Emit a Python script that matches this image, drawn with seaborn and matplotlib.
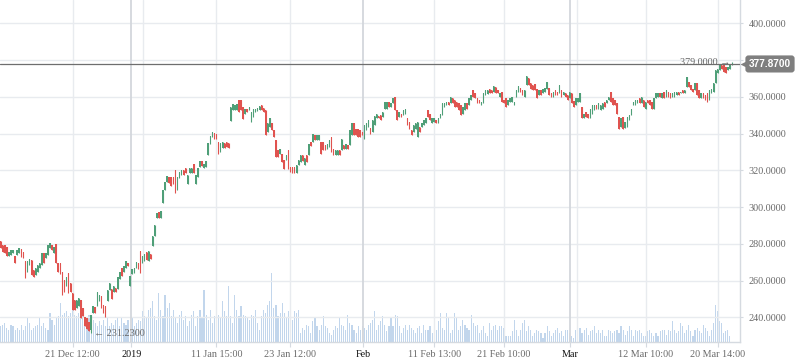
import numpy as np
import pandas as pd
import seaborn as sns
import matplotlib
matplotlib.use("Agg")
import matplotlib.pyplot as plt
from matplotlib.transforms import blended_transform_factory

# ---------------- data ----------------
opens = [
    281.3, 279.5, 279.5, 278.5, 273.1, 274.0, 274.9, 273.5, 274.0, 275.0,
    277.0, 275.8, 270.4, 264.9, 268.6, 271.0, 265.8, 263.1, 264.9, 266.8,
    268.6, 274.9, 272.2, 274.0, 277.6, 279.5, 274.9, 280.0, 269.8, 269.5,
    264.4, 260.4, 256.8, 264.0, 258.6, 253.1, 249.5, 244.8, 245.9, 249.5,
    245.0, 240.4, 239.5, 237.7, 233.2, 242.3, 245.5, 245.9, 248.6, 251.7,
    246.8, 246.2, 248.6, 255.0, 255.3, 254.0, 256.2, 255.3, 260.8, 266.8,
    264.9, 266.8, 269.8,
    257.1, 263.4, 264.0, 267.0, 269.7, 276.0, 269.7, 270.6, 275.5, 270.6,
    274.2, 278.7, 284.1, 294.1, 297.1, 294.1, 302.2, 309.4, 313.9, 316.2,
    316.2, 316.2, 320.2, 309.4, 315.7, 317.5, 320.2, 321.0, 312.6, 318.4,
    318.7, 323.4, 312.6, 316.2, 322.0, 325.2, 321.0, 322.0, 328.3, 334.2,
    338.2, 340.4, 339.6, 335.5, 330.1, 331.9, 335.0, 335.5, 335.0, 346.8,
    352.6, 352.6, 352.6, 358.4, 358.4, 354.4, 350.8, 353.5, 352.6,
    346.4, 349.1, 351.5, 352.2, 352.7, 355.5, 354.0, 352.7, 340.9, 343.6,
    345.8, 341.8, 336.4, 330.9, 329.1, 329.1, 325.5, 325.5, 330.9, 321.8,
    321.8, 321.8, 318.7, 322.7, 324.5, 328.5, 322.7, 328.5, 328.2, 335.5,
    335.5, 339.1, 336.4, 336.4, 335.5, 335.5, 333.6, 331.8, 332.7, 338.2,
    331.8, 328.2, 328.2, 330.9, 330.9, 334.0, 331.8, 334.0, 333.6, 339.1,
    345.5, 342.7, 342.7, 341.8, 340.9, 336.9, 341.8, 343.6, 343.1, 340.9,
    344.5, 348.2, 349.6,
    350.0, 349.1, 353.6, 353.6, 357.3, 354.5, 356.4, 360.0, 352.7, 349.1,
    350.9, 350.0, 350.9, 348.2, 346.4, 341.8, 340.9, 342.7, 338.2, 343.6,
    343.6, 344.5, 345.5, 352.7, 350.9, 345.5, 346.4, 347.3, 345.5, 348.2,
    350.0, 354.5, 355.5, 357.3, 356.4, 359.1, 358.2, 357.3, 356.4, 355.5,
    350.9, 352.7, 356.4, 355.5, 358.2, 363.6, 361.8, 359.1, 358.2, 355.5,
    356.4, 360.9, 361.5, 364.0, 363.6, 362.7, 365.5, 363.6, 360.0, 362.7,
    358.2,
    359.1, 355.5, 357.3, 357.3, 355.5, 360.0, 362.7, 364.9, 363.6, 360.0,
    366.4, 370.0, 367.3, 366.4, 366.7, 364.5, 360.9, 363.6, 361.8, 362.7,
    364.5, 364.9, 361.8, 360.0, 363.6, 362.7, 361.8, 363.6, 360.9, 361.8,
    360.9, 359.1, 361.8, 357.6, 355.5, 357.3, 356.9, 354.5, 348.2, 351.8,
    350.9, 348.2, 350.9, 352.7, 355.8, 353.6, 352.7, 353.6, 356.9, 356.4,
    358.2, 362.7, 359.1, 358.2, 356.4, 349.1, 343.6, 349.1,
    342.8, 343.7, 347.3, 350.0, 355.5, 355.5, 356.4, 359.1, 356.4, 358.2,
    353.6, 358.2, 358.2, 357.3, 353.6, 359.1, 360.0, 361.8, 359.1, 362.7,
    360.0, 362.7, 361.8, 360.0, 360.0, 360.9, 362.7, 361.8, 363.6, 361.8,
    365.4, 368.2, 366.4, 364.5, 363.6, 367.3, 363.6, 359.1, 361.8, 360.9,
    361.8, 358.2, 361.8, 362.7, 367.3, 372.7, 374.5, 377.2, 378.1, 376.3,
    374.5, 375.4, 377.2,
]
closes = [
    277.6, 275.8, 274.9, 273.1, 275.8, 276.7, 276.7, 269.8, 276.7, 277.6,
    273.0, 272.2, 261.3, 270.4, 271.7, 263.0, 262.2, 266.8, 268.6, 269.5,
    274.9, 269.5, 274.9, 279.5, 280.4, 276.7, 278.5, 269.5, 264.9, 263.6,
    252.2, 254.0, 262.2, 253.1, 254.0, 244.1, 244.1, 249.5, 250.4, 239.5,
    240.5, 235.0, 233.5, 232.3, 241.4, 245.9, 242.6, 254.0, 252.2, 245.0,
    242.3, 240.1, 255.0, 258.6, 249.9, 257.1, 253.5, 262.2, 264.4, 262.6,
    268.0, 270.4, 267.7,
    262.5, 266.1, 267.0, 270.0, 266.1, 264.3, 273.3, 274.2, 271.2, 276.0,
    271.5, 284.1, 290.4, 296.8, 294.1, 298.0, 309.4, 313.9, 317.0, 313.0,
    311.2, 312.6, 307.6, 316.2, 319.3, 320.2, 317.5, 318.4, 317.5, 321.0,
    321.1, 318.7, 317.5, 321.0, 325.0, 322.3, 323.4, 325.2, 334.6, 338.6,
    340.9, 337.3, 337.3, 328.8, 334.6, 335.5, 331.9, 332.8, 331.9, 354.4,
    356.2, 355.3, 356.2, 351.7, 352.6, 348.1, 353.5, 351.7, 354.4,
    351.8, 353.6, 353.6, 354.0, 355.0, 352.7, 351.8, 339.1, 345.5, 348.2,
    341.8, 338.2, 327.3, 327.3, 331.8, 324.5, 320.9, 328.2, 320.9, 319.1,
    318.7, 318.7, 322.7, 325.5, 328.2, 324.9, 326.7, 324.5, 334.5, 333.3,
    339.5, 336.4, 339.1, 339.1, 329.1, 330.9, 330.9, 334.5, 336.4, 330.0,
    328.2, 330.9, 330.9, 328.2, 337.3, 331.8, 334.5, 331.8, 341.8, 345.8,
    339.1, 339.1, 338.2, 338.2, 339.1, 344.9, 345.5, 347.3, 340.0, 347.3,
    349.5, 350.4, 348.2,
    347.3, 351.8, 357.3, 357.3, 354.5, 356.7, 359.6, 352.7, 347.3, 351.8,
    349.1, 352.7, 353.1, 344.5, 342.7, 339.1, 344.5, 345.5, 346.4, 340.9,
    345.5, 347.6, 348.2, 349.1, 347.3, 348.2, 348.2, 345.5, 348.2, 350.9,
    356.4, 356.7, 357.3, 355.5, 360.0, 356.4, 354.5, 354.5, 352.7, 350.0,
    354.5, 356.4, 353.6, 359.1, 360.9, 360.0, 359.1, 356.4, 356.4, 357.3,
    361.8, 363.6, 363.6, 361.8, 361.8, 365.8, 361.8, 361.8, 361.8, 357.3,
    356.4,
    354.5, 358.2, 359.1, 360.0, 357.3, 363.6, 366.0, 362.7, 360.9, 363.6,
    371.3, 366.4, 364.5, 363.6, 363.6, 359.1, 363.6, 360.9, 364.2, 364.9,
    368.2, 360.9, 360.0, 362.4, 360.9, 360.9, 366.4, 360.0, 362.7, 360.0,
    358.2, 362.7, 356.4, 354.5, 359.1, 359.1, 361.8, 348.2, 350.9, 349.1,
    348.2, 353.6, 355.5, 355.5, 353.6, 356.4, 355.5, 356.4, 354.5, 358.2,
    360.0, 357.3, 355.5, 355.5, 350.9, 342.7, 348.2, 342.7,
    346.4, 349.1, 350.0, 353.6, 357.3, 358.2, 358.2, 356.4, 360.0, 354.6,
    357.3, 356.4, 355.5, 353.6, 359.1, 361.8, 362.2, 360.0, 361.8, 359.1,
    363.6, 360.0, 359.1, 361.8, 362.7, 362.7, 360.9, 362.7, 361.8, 363.6,
    370.9, 365.4, 363.6, 362.7, 367.3, 360.9, 359.1, 361.8, 359.1, 358.2,
    357.3, 363.6, 364.5, 367.3, 374.5, 375.4, 378.1, 375.4, 373.6, 372.7,
    376.3, 377.2, 377.87,
]
volumes = [
    16, 17, 19, 14, 12, 17, 16, 12, 14, 12, 17, 12, 16, 25, 19, 12, 14, 16, 17,
    25, 16, 19, 14, 12, 29, 22, 17, 24, 26, 39, 27, 29, 31, 26, 29, 32, 27, 26, 29,
    34, 29, 24, 22, 27, 16, 22, 19, 16, 21, 17, 22, 16, 24, 16, 19, 17, 22, 24,
    16, 24, 19, 17, 22, 12, 24, 16, 19, 22, 21, 31, 26, 24, 32, 34, 41, 26, 22, 49,
    32, 26, 47, 34, 39, 26, 32, 24, 19, 27, 31, 22, 26, 16, 21, 27, 31, 16, 26,
    32, 24, 52, 27, 22, 32, 19, 26, 29, 27, 24, 41, 31, 26, 56, 26, 19, 47, 32, 26,
    36, 27, 26, 24, 22, 27, 26, 32, 19, 12, 26, 32, 29, 37, 41, 69, 34, 37, 26, 29,
    39, 29, 24, 31, 27, 22, 31, 29, 32,
    9, 14, 12, 17, 16, 9, 21, 24, 16, 12, 17, 26, 16, 14, 9, 7, 12, 16, 14, 24,
    17, 16, 12, 27, 19, 17, 12, 9, 16, 12, 16, 14, 12, 17, 19, 22, 31, 12, 17, 21,
    26, 17, 11, 16, 24, 16, 27, 26, 16, 9, 14, 17, 12, 17, 14, 12, 9, 14, 16,
    9, 17, 12, 12, 16, 9, 6, 12, 21, 29, 14, 12, 29, 24, 9, 12, 29, 24, 12, 16,
    22, 17, 14, 12, 27, 19, 16, 17, 9, 12, 16, 9, 6, 19, 12, 16, 17, 12, 16,
    16, 14, 6, 6, 6, 11, 22, 12, 6, 12, 19, 22, 11, 16, 12, 6, 9, 12, 11, 9,
    4, 9, 16, 11, 6, 9, 12, 14, 9, 11, 6, 12, 12, 9, 6, 4, 12, 11, 14,
    9, 12, 14, 7, 11, 12, 16, 9, 12,
    9, 12, 6, 6, 12, 11, 9, 11, 12, 9, 16, 12, 7, 11, 16, 12, 6, 12,
    11, 12, 9, 6, 6, 11, 12, 9, 6, 9, 6, 11, 12, 12, 7, 12, 11, 21, 12,
    9, 11, 19, 16, 9, 12, 17, 11, 6, 12, 14, 11, 9, 17, 14, 11, 6, 12, 19, 37,
    31, 21, 19, 9, 11, 12, 6,
]
low_index, low_value = 44, 231.23
high_value = 379.0
last_price = 377.87

tick_index = [35, 63.5, 105, 141, 176.5, 211, 245, 277, 314, 349]
tick_labels = ["21 Dec 12:00", "2019", "11 Jan 15:00", "23 Jan 12:00", "Feb",
               "11 Feb 13:00", "21 Feb 10:00", "Mar", "12 Mar 10:00", "20 Mar 14:00"]
month_labels = ["2019", "Feb", "Mar"]
extra_grid_index = [69.5, 280.5]
price_ticks = [240, 260, 280, 300, 320, 340, 360, 380, 400]
hidden_price_labels = [380]   # covered by the last-price tag

# ---------------- build frame ----------------
n = min(len(opens), len(closes))
df = pd.DataFrame({"idx": np.arange(n), "open": opens[:n], "close": closes[:n]})
df["up"] = df["close"] >= df["open"]
df["bot"] = df[["open", "close"]].min(axis=1)
df["top"] = df[["open", "close"]].max(axis=1)
df["lo"] = df["bot"]
df["hi"] = df["top"]
df.loc[low_index, "lo"] = low_value
high_index = n - 1
df.loc[high_index, "hi"] = high_value
vol = pd.DataFrame({"idx": np.arange(len(volumes)), "volume": volumes})

# ---------------- style ----------------
sns.set_theme(style="white")
plt.rcParams["font.family"] = ["Liberation Serif", "DejaVu Sans"]

UP, DOWN = "#4f9f78", "#e0534f"
GRID = "#e8ebef"
MONTH = "#d3d7dc"
AXIS = "#d5dae0"
VOLC = "#c2d6ec"

fig = plt.figure(figsize=(7.98, 3.63), dpi=100)
ax = fig.add_axes([0.0, 20.7 / 363, 740 / 798, 342.3 / 363])
axv = ax.twinx()

# volume (behind)
sns.barplot(data=vol, x="idx", y="volume", ax=axv, color=VOLC, width=0.55,
            native_scale=True, errorbar=None, saturation=1, linewidth=0)
axv.set_ylim(0, 342.3)
axv.set_yticks([])
axv.set_ylabel("")
for s in axv.spines.values():
    s.set_visible(False)

ax.set_zorder(axv.get_zorder() + 1)
ax.patch.set_visible(False)

# grid
for y in price_ticks:
    ax.axhline(y, color=GRID, lw=1, zorder=0)
for p in tick_index + extra_grid_index:
    lab = tick_labels[tick_index.index(p)] if p in tick_index else ""
    if lab in month_labels:
        ax.axvline(p, color=MONTH, lw=1.3, zorder=0)
    else:
        ax.axvline(p, color=GRID, lw=1, zorder=0)

# candles
colors = np.where(df["up"], UP, DOWN)
body = np.maximum(df["top"] - df["bot"], 0.4)
ax.vlines(df["idx"], df["lo"], df["hi"], colors=colors, lw=0.8, zorder=3)
ax.bar(df["idx"], body, bottom=df["bot"], width=0.7,
       color=colors, linewidth=0, zorder=3)

# last price line
ax.axhline(last_price, color="#6e6e6e", lw=0.9, zorder=4)

ax.set_xlim(-0.34, 359.9)
ax.set_ylim(226.39, 412.68)

# axes styling
ax.yaxis.tick_right()
ax.set_yticks(price_ticks)
ax.set_yticklabels(["" if v in hidden_price_labels else f"{v:.4f}" for v in price_ticks])
ax.tick_params(axis="y", which="both", right=True, left=False, length=2.5,
               width=0.8, color=AXIS, pad=3.5, labelsize=7.3, labelcolor="#6a6a6a")
ax.set_xticks(tick_index)
ax.set_xticklabels(tick_labels)
ax.tick_params(axis="x", bottom=True, length=3.5, width=0.8, color=AXIS, pad=1.8,
               labelsize=7.3, labelcolor="#6a6a6a")
for t in ax.get_xticklabels():
    if t.get_text() in month_labels:
        t.set_color("#111111")
for name, s in ax.spines.items():
    s.set_visible(name in ("right", "bottom"))
    s.set_color(AXIS)
    s.set_linewidth(1)
ax.set_xlabel("")
ax.set_ylabel("")
axv.set_xlabel("")

# annotations
ax.text(low_index + 1.3, low_value, "\u2190 " + f"{low_value:.4f}", fontsize=7.3,
        color="#6a6a6a", va="center", ha="left", zorder=5,
        family=["Liberation Serif", "DejaVu Sans"])
ax.text(high_index - 0.8, high_value - 0.2, f"{high_value:.4f} \u2192", fontsize=7.3,
        color="#6a6a6a", va="center", ha="right", zorder=5,
        family=["Liberation Serif", "DejaVu Sans"])

tr = blended_transform_factory(ax.transAxes, ax.transData)
ax.text(770 / 740, last_price, f"{last_price:.4f}", transform=tr, ha="center",
        va="center", fontsize=7.3, color="white", fontweight="bold", clip_on=False,
        zorder=10, family=["Liberation Sans", "DejaVu Sans"],
        bbox=dict(boxstyle="round,pad=0.35,rounding_size=0.3", fc="#7f7f7f", ec="none"))
ax.plot([744 / 740], [last_price], marker="<", ms=6, color="#7f7f7f", transform=tr,
        clip_on=False, zorder=10, mec="none")

fig.savefig("out.png", dpi=100, facecolor="white")
